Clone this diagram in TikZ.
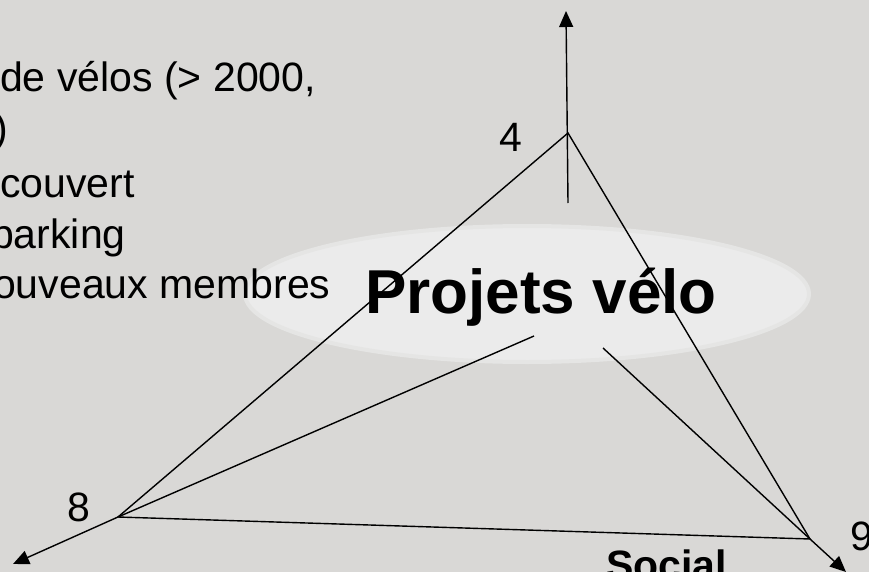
\documentclass[tikz,border=0pt]{standalone}
\usepackage{fontspec}
\setmainfont{Liberation Sans}
\usepackage{xcolor}
\usetikzlibrary{arrows.meta,shapes.geometric}
\definecolor{slideGray}{RGB}{217,216,214}
\definecolor{bubbleGray}{RGB}{235,235,235}
\definecolor{bubbleEdge}{RGB}{229,229,228}

\begin{document}
\begin{tikzpicture}[x=1pt,y=-1pt,
    trait/.style={black, line width=1.4pt},
    fleche/.style={black, line width=1.4pt, -{Triangle[length=16pt,width=14pt]}},
    ligne/.style={anchor=base west, inner sep=0pt, font=\fontsize{41}{48}\selectfont},
    sommet/.style={anchor=base, inner sep=0pt, font=\fontsize{41}{48}\selectfont}]
\fill[slideGray] (0,0) rectangle (869,572);
\useasboundingbox (0,0) rectangle (869,572);
\node[ellipse, fill=bubbleGray, draw=bubbleEdge, line width=4pt, minimum width=564pt, minimum height=136pt, inner sep=0pt] (bulle) at (527,294) {};
% texte coupe a gauche
\node[ligne] (ligneA) at (0,92) {de vélos (> 2000,};
\node[ligne] (ligneB) at (-6,143) {)};
\node[ligne] (ligneC) at (0,197) {couvert};
\node[ligne] (ligneD) at (-9,248) {parking};
\node[ligne] (ligneE) at (-7,298) {ouveaux membres};
\node[anchor=base, inner sep=0pt, font=\fontsize{62}{70}\selectfont\bfseries] (titre) at (541,313) {Projets vélo};
% sommets
\coordinate (v4) at (568,133);
\coordinate (v8) at (118,517);
\coordinate (v9) at (810,539);
\coordinate (pied) at (568,203);
\coordinate (haut) at (566,11);
\coordinate (basG) at (13,564);
\coordinate (basD) at (846,572);
\coordinate (departG) at (534,336);
\coordinate (departD) at (603,348);
\draw[trait] (v4) -- (v8) -- (v9) -- cycle;
\draw[trait] (departG) -- (v8);
\draw[trait] (departD) -- (v9);
\draw[fleche] (pied) -- (haut);
\draw[fleche] (v8) -- (basG);
\draw[fleche] (v9) -- (basD);
\node[sommet] (n4) at (511,152) {4};
\node[sommet] (n8) at (79,521) {8};
\node[sommet] (n9) at (862,550) {9};
\node[anchor=base west, inner sep=0pt, font=\fontsize{41}{48}\selectfont\bfseries] (social) at (606,579) {Social};
\end{tikzpicture}
\end{document}
